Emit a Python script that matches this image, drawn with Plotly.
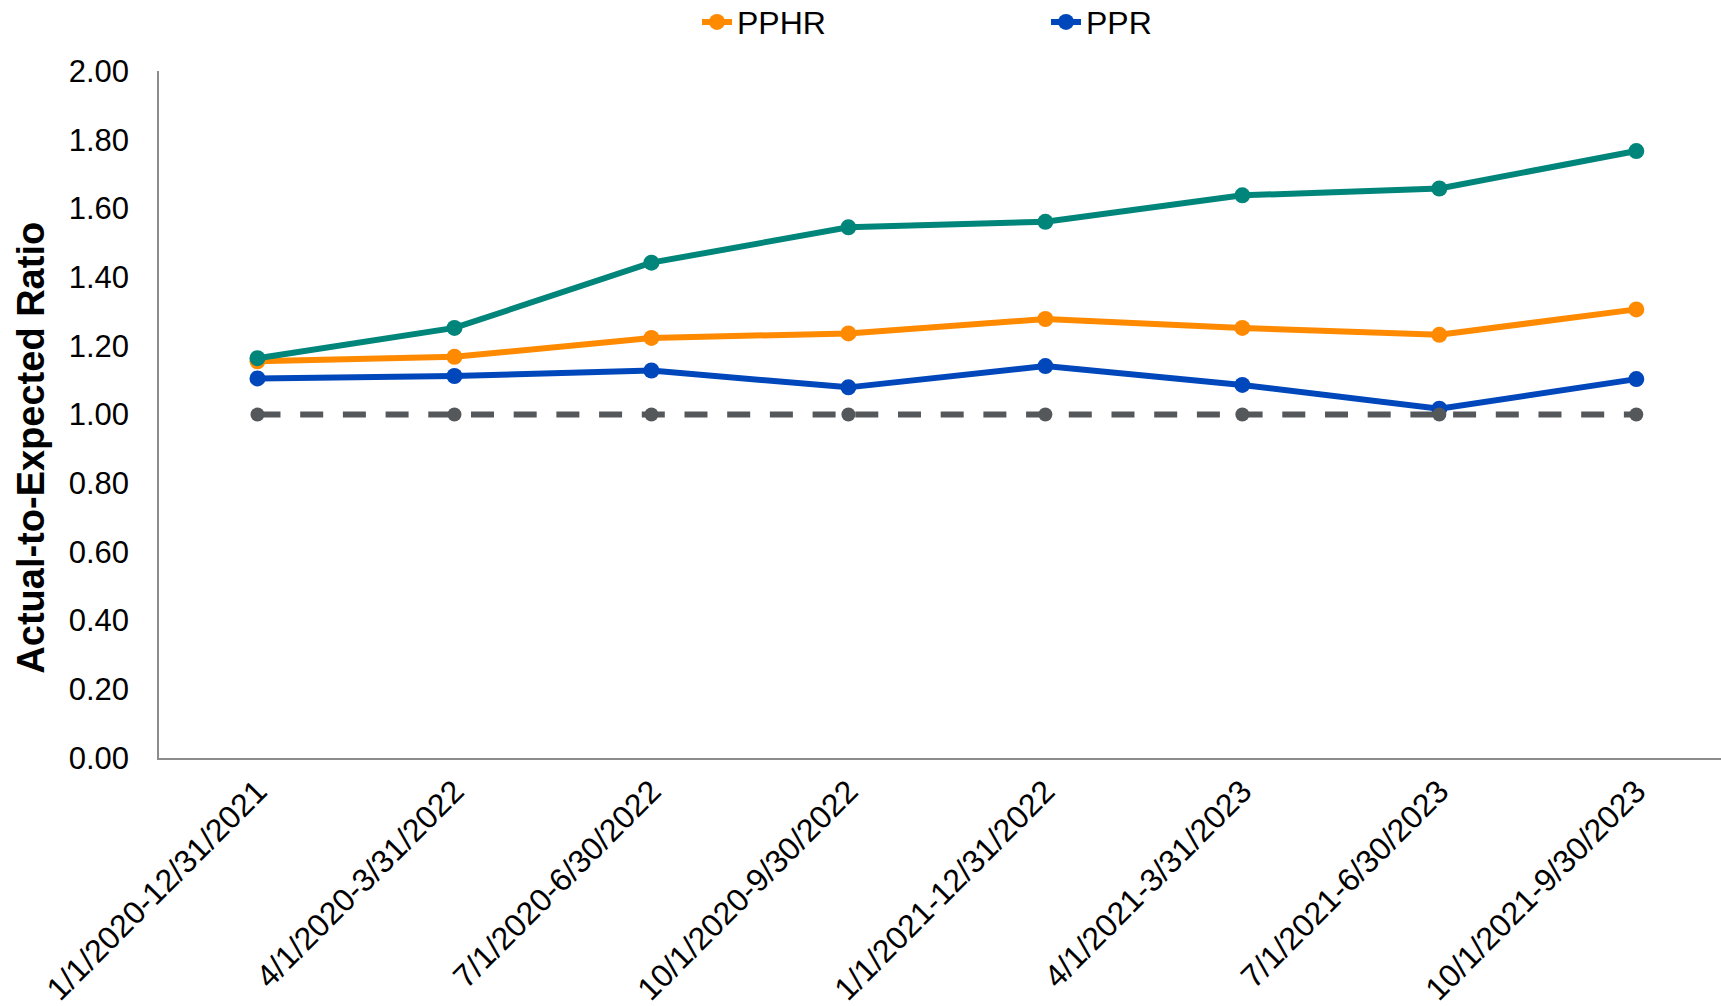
import plotly.graph_objects as go

# Rolling two-year study periods
periods = [
    "1/1/2020-12/31/2021",
    "4/1/2020-3/31/2022",
    "7/1/2020-6/30/2022",
    "10/1/2020-9/30/2022",
    "1/1/2021-12/31/2022",
    "4/1/2021-3/31/2023",
    "7/1/2021-6/30/2023",
    "10/1/2021-9/30/2023",
]

# Actual-to-expected ratios by measure
pphr = [1.155, 1.168, 1.223, 1.236, 1.278, 1.252, 1.232, 1.306]
ppr = [1.105, 1.112, 1.128, 1.079, 1.141, 1.086, 1.017, 1.103]
combined = [1.164, 1.252, 1.442, 1.545, 1.561, 1.638, 1.658, 1.767]
expected = [1.00] * len(periods)

y_ticks = [0.0, 0.2, 0.4, 0.6, 0.8, 1.0, 1.2, 1.4, 1.6, 1.8, 2.0]

FONT = "Liberation Sans, Arial, sans-serif"
LW = 6
MS = 16

fig = go.Figure()

fig.add_trace(go.Scatter(
    x=periods, y=ppr, name="PPR", mode="lines+markers",
    line=dict(color="#0047BB", width=LW),
    marker=dict(color="#0047BB", size=MS),
    legendrank=2,
))
fig.add_trace(go.Scatter(
    x=periods, y=pphr, name="PPHR", mode="lines+markers",
    line=dict(color="#FF8A00", width=LW),
    marker=dict(color="#FF8A00", size=MS),
    legendrank=1,
))
fig.add_trace(go.Scatter(
    x=periods, y=combined, name="Combined", mode="lines+markers",
    line=dict(color="#00857A", width=LW),
    marker=dict(color="#00857A", size=MS),
    showlegend=False,
))
fig.add_trace(go.Scatter(
    x=periods, y=expected, name="Expected", mode="lines+markers",
    line=dict(color="#55585B", width=LW, dash="23px,19.7px"),
    marker=dict(color="#55585B", size=14),
    showlegend=False,
))

fig.update_layout(
    width=1721,
    height=1006,
    margin=dict(l=159, r=0, t=71, b=248),
    paper_bgcolor="white",
    plot_bgcolor="white",
    font=dict(family=FONT, size=31, color="black"),
    showlegend=True,
    legend=dict(
        orientation="h",
        xref="container", yref="container",
        x=0.405, xanchor="left",
        y=0.978, yanchor="middle",
        entrywidth=304, entrywidthmode="pixels",
        font=dict(family=FONT, size=32, color="black"),
        bgcolor="rgba(0,0,0,0)",
    ),
    xaxis=dict(
        type="category",
        range=[-0.5, 7.43],
        tickangle=-45,
        showline=True,
        linecolor="#8C8C8C",
        linewidth=1.5,
        showgrid=False,
        zeroline=False,
        ticks="",
        tickfont=dict(family=FONT, size=32, color="black"),
    ),
    yaxis=dict(
        range=[0, 2.0],
        tickvals=y_ticks,
        tickformat=".2f",
        showline=True,
        linecolor="#8C8C8C",
        linewidth=1.5,
        showgrid=False,
        zeroline=False,
        ticks="",
        ticklabelstandoff=22,
        tickfont=dict(family=FONT, size=31, color="black"),
    ),
    annotations=[dict(
        text="<b>Actual-to-Expected Ratio</b>",
        textangle=-90,
        xref="paper", yref="paper",
        x=-0.082, y=0.4516,
        xanchor="center", yanchor="middle",
        showarrow=False,
        font=dict(family=FONT, size=38, color="black"),
    )],
)

fig.write_html("out.html")
